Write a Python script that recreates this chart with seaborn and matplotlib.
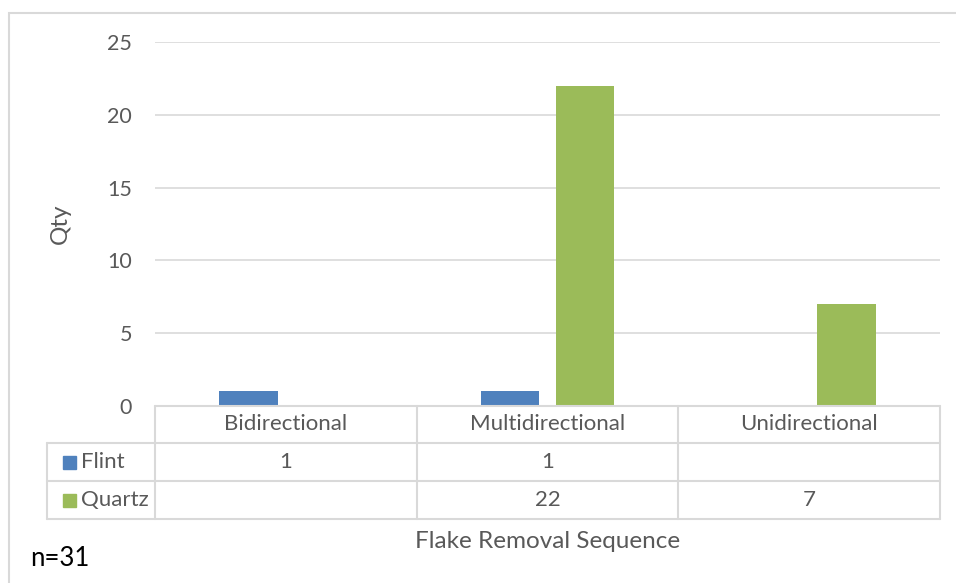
import matplotlib
matplotlib.use("Agg")
import matplotlib.pyplot as plt
import matplotlib.transforms as mtransforms
from matplotlib.patches import Rectangle
import seaborn as sns
import pandas as pd
import numpy as np

categories = ["Bidirectional", "Multidirectional", "Unidirectional"]
series_names = ["Flint", "Quartz"]
flint_values = [1, 1, None]
quartz_values = [None, 22, 7]
colors = {"Flint": "#4f81bd", "Quartz": "#9bbb59"}
y_ticks = [0, 5, 10, 15, 20, 25]
x_title = "Flake Removal Sequence"
y_title = "Qty"
note = "n=31"

rows = []
for s, vals in zip(series_names, [flint_values, quartz_values]):
    for c, v in zip(categories, vals):
        if v is not None:
            rows.append({"cat": c, "series": s, "val": v})
df = pd.DataFrame(rows)

sns.set_theme(style="white")
plt.rcParams["font.family"] = ["Lato", "DejaVu Sans"]
TXT = "#595959"
GRID = "#d9d9d9"

W, H = 956, 583
fig = plt.figure(figsize=(W / 100, H / 100), dpi=100)
left_px, right_px, top_px, bot_px = 155, 940, 42, 406
ax = fig.add_axes([left_px / W, 1 - bot_px / H, (right_px - left_px) / W, (bot_px - top_px) / H])

sns.barplot(data=df, x="cat", y="val", hue="series", order=categories,
            hue_order=series_names, palette=colors, width=0.57, gap=0.22,
            ax=ax, legend=False, saturation=1, edgecolor="none")

ax.set_xlim(-0.5, len(categories) - 0.5)
ax.set_ylim(0, 25)
ax.set_yticks(y_ticks)
ax.set_yticklabels([str(t) for t in y_ticks], color=TXT, fontsize=15.5)
ax.tick_params(axis="y", length=0, pad=16.5)
ax.set_xticks([])
ax.set_xlabel("")
ax.set_ylabel(y_title, color=TXT, fontsize=17.5, labelpad=26)
ax.grid(axis="y", color=GRID, linewidth=1.2)
ax.set_axisbelow(True)
for sp in ax.spines.values():
    sp.set_visible(False)

# data table below axes
px_to_ax = lambda p: (bot_px - p) / (bot_px - top_px)
trans = mtransforms.blended_transform_factory(ax.transData, ax.transAxes)
cat_px = (right_px - left_px) / len(categories)
x_tab_left = -0.5 - (left_px - 47) / cat_px
row_edges = [406, 443, 481, 519]
ly = [px_to_ax(p) for p in row_edges]
lw = 1.5
ax.plot([-0.5, len(categories) - 0.5], [ly[0], ly[0]], transform=trans, color=GRID, lw=lw, clip_on=False)
for yv in ly[1:]:
    ax.plot([x_tab_left, len(categories) - 0.5], [yv, yv], transform=trans, color=GRID, lw=lw, clip_on=False)
for i in range(len(categories) + 1):
    xv = i - 0.5
    ax.plot([xv, xv], [ly[0], ly[3]], transform=trans, color=GRID, lw=lw, clip_on=False)
ax.plot([x_tab_left, x_tab_left], [ly[1], ly[3]], transform=trans, color=GRID, lw=lw, clip_on=False)

for i, c in enumerate(categories):
    ax.text(i, (ly[0] + ly[1]) / 2, c, transform=trans, ha="center", va="center",
            color=TXT, fontsize=16)
key_w = 13 / cat_px
key_h = 13 / (bot_px - top_px)
for r, (s, vals) in enumerate(zip(series_names, [flint_values, quartz_values])):
    yc = (ly[r + 1] + ly[r + 2]) / 2
    ax.add_patch(Rectangle((x_tab_left + 16 / cat_px, yc - key_h / 2), key_w, key_h, transform=trans,
                           color=colors[s], clip_on=False))
    ax.text(x_tab_left + 34 / cat_px, yc, s, transform=trans, ha="left", va="center",
            color=TXT, fontsize=16)
    for i, v in enumerate(vals):
        if v is not None:
            ax.text(i, yc, str(v), transform=trans, ha="center", va="center",
                    color=TXT, fontsize=16)

fig.text((left_px + right_px) / 2 / W, 1 - 541 / H, x_title, ha="center", va="center",
         color=TXT, fontsize=17.5)
fig.text(30 / W, 1 - 558 / H, note, ha="left", va="center", color="black", fontsize=18.5)

fig.patches.append(Rectangle((9 / W, -0.1), 1.1, 1 - 13 / H + 0.1, transform=fig.transFigure,
                             fill=False, edgecolor=GRID, lw=1.5))

fig.savefig("out.png", dpi=100)
